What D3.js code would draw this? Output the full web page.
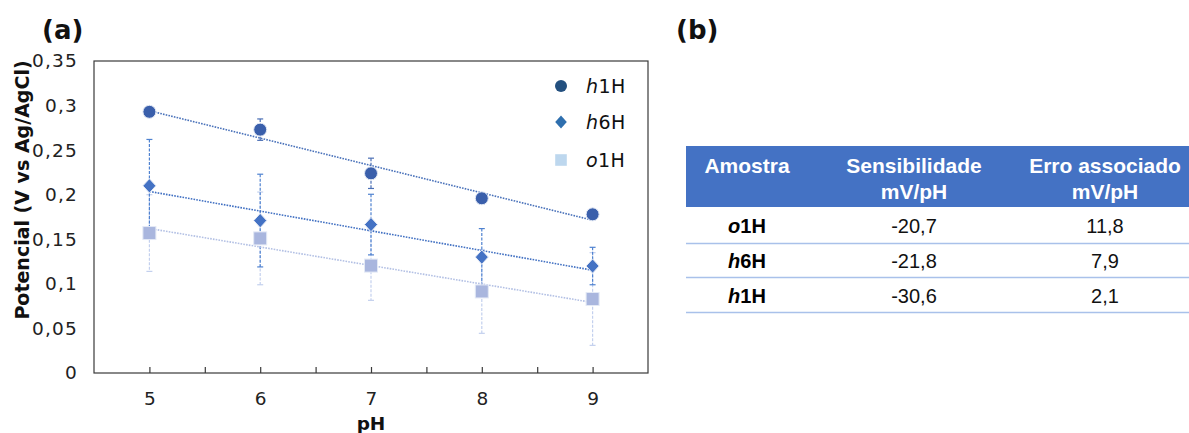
<!DOCTYPE html>
<html>
<head>
<meta charset="utf-8">
<script src="https://cdn.jsdelivr.net/npm/d3@7"></script>
<style>
  html, body { margin: 0; padding: 0; background: #fff; }
  svg { display: block; }
</style>
</head>
<body>
<svg id="fig" width="1189" height="433"></svg>
<script>
// ---- Data: potential vs pH for the three samples ----
const pH = [5, 6, 7, 8, 9];
const h1H = [0.293, 0.273, 0.224, 0.196, 0.178];
const h1HErr = [0.003, 0.012, 0.017, 0.003, 0.003];
const h6H = [0.210, 0.171, 0.1665, 0.130, 0.120];
const h6HErr = [0.052, 0.052, 0.034, 0.032, 0.021];
const o1H = [0.157, 0.151, 0.1205, 0.0915, 0.083];
const o1HErr = [0.043, 0.052, 0.039, 0.047, 0.052];

const yTicks = [0, 0.05, 0.1, 0.15, 0.2, 0.25, 0.3, 0.35];
const xTicks = [5, 6, 7, 8, 9];
const xMinorTicks = [5.5, 6.5, 7.5, 8.5];

// ---- Table (b): sensitivity and associated error ----
const tableHeader = [["Amostra"], ["Sensibilidade", "mV/pH"], ["Erro associado", "mV/pH"]];
const samplePrefix = ["o", "h", "h"];
const sampleSuffix = ["1H", "6H", "1H"];
const sensitivity = ["-20,7", "-21,8", "-30,6"];
const assocError = ["11,8", "7,9", "2,1"];

const svg = d3.select("#fig");
const fmt = v => d3.format("")(v).replace(".", ",");
const FONT = "DejaVu Sans, Verdana, sans-serif";

// ---- Scales ----
const x = d3.scaleLinear().domain([4.5, 9.5]).range([94, 648]);
const y = d3.scaleLinear().domain([0, 0.35]).range([373, 61]);

const series = [
  { name: "o1H", pre: "o", suf: "1H", vals: o1H, err: o1HErr, shape: "square",
    fill: "#a9b6de", line: "#b3c0e4", errColor: "#c3d0ee", legend: "#bdd7ee" },
  { name: "h6H", pre: "h", suf: "6H", vals: h6H, err: h6HErr, shape: "diamond",
    fill: "#4472c4", line: "#4170c2", errColor: "#4f82d0", legend: "#2e6fae" },
  { name: "h1H", pre: "h", suf: "1H", vals: h1H, err: h1HErr, shape: "circle",
    fill: "#3a5fab", line: "#4a72ba", errColor: "#4b6fb5", legend: "#23507f" }
];

// ---- Frame ----
svg.append("rect")
  .attr("x", x(4.5)).attr("y", y(0.35))
  .attr("width", x(9.5) - x(4.5)).attr("height", y(0) - y(0.35))
  .attr("fill", "none").attr("stroke", "#3a3a3a").attr("stroke-width", 1.2);

// ---- X axis (ticks inside the frame) ----
const xAxis = d3.axisBottom(x).tickValues(xTicks).tickSize(-6).tickPadding(19)
  .tickFormat(d => d);
const gx = svg.append("g").attr("transform", `translate(0,${y(0)})`).call(xAxis);
gx.select(".domain").remove();
gx.selectAll(".tick line").attr("stroke", "#3a3a3a").attr("stroke-width", 1.2);
gx.selectAll(".tick text").attr("font-family", FONT)
  .attr("font-size", 18.5).attr("fill", "#222");
const gxMinor = svg.append("g").attr("transform", `translate(0,${y(0)})`)
  .call(d3.axisBottom(x).tickValues(xMinorTicks).tickSize(-6).tickFormat(""));
gxMinor.select(".domain").remove();
gxMinor.selectAll(".tick line").attr("stroke", "#3a3a3a").attr("stroke-width", 1.2);

// ---- Y axis (labels only) ----
const gy = svg.append("g").attr("transform", `translate(${x(4.5)},0)`)
  .call(d3.axisLeft(y).tickValues(yTicks).tickSize(0).tickPadding(16).tickFormat(fmt));
gy.select(".domain").remove();
gy.selectAll(".tick text").attr("font-family", FONT)
  .attr("font-size", 18.5).attr("letter-spacing", 1.2).attr("fill", "#222");

// ---- Axis titles ----
svg.append("text")
  .attr("transform", `translate(29,190) rotate(-90)`)
  .attr("text-anchor", "middle")
  .attr("font-family", FONT).attr("font-weight", "bold")
  .attr("font-size", 19).attr("fill", "#111")
  .text("Potencial (V vs Ag/AgCl)");
svg.append("text")
  .attr("x", x(7)).attr("y", 430)
  .attr("text-anchor", "middle")
  .attr("font-family", FONT).attr("font-weight", "bold")
  .attr("font-size", 18.5).attr("fill", "#111")
  .text("pH");

// ---- Panel letters ----
svg.append("text").attr("x", 42).attr("y", 39)
  .attr("font-family", FONT).attr("font-weight", "bold")
  .attr("font-size", 26).attr("fill", "#111").text("(a)");
svg.append("text").attr("x", 676).attr("y", 39)
  .attr("font-family", FONT).attr("font-weight", "bold")
  .attr("font-size", 26).attr("fill", "#111").text("(b)");

// ---- Error bars ----
const capHalf = 3;
series.forEach(s => {
  const g = svg.append("g");
  pH.forEach((p, i) => {
    const cx = x(p), top = y(s.vals[i] + s.err[i]), bot = y(s.vals[i] - s.err[i]);
    g.append("line").attr("x1", cx).attr("x2", cx).attr("y1", top).attr("y2", bot)
      .attr("stroke", s.errColor).attr("stroke-width", 1.2).attr("stroke-dasharray", "3,1.5");
    [top, bot].forEach(yy => g.append("line")
      .attr("x1", cx - capHalf).attr("x2", cx + capHalf).attr("y1", yy).attr("y2", yy)
      .attr("stroke", s.errColor).attr("stroke-width", 1.2));
  });
});

// ---- Linear trend lines (least squares) ----
function fit(xs, ys) {
  const mx = d3.mean(xs), my = d3.mean(ys);
  const b = d3.sum(xs, (v, i) => (v - mx) * (ys[i] - my)) / d3.sum(xs, v => (v - mx) ** 2);
  return { b, a: my - b * mx };
}
series.forEach(s => {
  const { a, b } = fit(pH, s.vals);
  const x0 = d3.min(pH), x1 = d3.max(pH);
  svg.append("line")
    .attr("x1", x(x0)).attr("y1", y(a + b * x0))
    .attr("x2", x(x1)).attr("y2", y(a + b * x1))
    .attr("stroke", s.line).attr("stroke-width", 1.6).attr("stroke-dasharray", "1.6,1.2");
});

// ---- Markers ----
function drawMarker(g, shape, cx, cy, r, fill, stroke) {
  let el;
  if (shape === "circle") {
    el = g.append("circle").attr("cx", cx).attr("cy", cy).attr("r", r);
  } else if (shape === "diamond") {
    const p = d3.path();
    p.moveTo(cx, cy - r * 1.1); p.lineTo(cx + r, cy); p.lineTo(cx, cy + r * 1.1); p.lineTo(cx - r, cy); p.closePath();
    el = g.append("path").attr("d", p.toString());
  } else {
    el = g.append("rect").attr("x", cx - r).attr("y", cy - r).attr("width", 2 * r).attr("height", 2 * r);
  }
  el.attr("fill", fill);
  if (stroke) el.attr("stroke", stroke).attr("stroke-width", 1);
  return el;
}
series.forEach(s => {
  const g = svg.append("g");
  pH.forEach((p, i) => drawMarker(g, s.shape, x(p), y(s.vals[i]), 6.5, s.fill, "#e3e9f5"));
});

// ---- Legend ----
const legendOrder = [series[2], series[1], series[0]];
const legendY = [86, 122, 160];
legendOrder.forEach((s, i) => {
  const g = svg.append("g");
  drawMarker(g, s.shape, 561, legendY[i], s.shape === "circle" ? 6 : 5.8, s.legend, null);
  const t = g.append("text").attr("x", 586).attr("y", legendY[i] + 6.5)
    .attr("font-family", FONT).attr("font-size", 19).attr("letter-spacing", 0.4).attr("fill", "#111");
  t.append("tspan").attr("font-style", "italic").text(s.pre);
  t.append("tspan").text(s.suf);
});

// ---- Table (b) ----
const colX = [747, 914, 1105];
const tbl = svg.append("g").attr("font-family", "Liberation Sans, Arial, sans-serif");
tbl.append("rect").attr("x", 686).attr("y", 146).attr("width", 1189 - 686).attr("height", 61)
  .attr("fill", "#4472c4");
tableHeader.forEach((lines, c) => {
  lines.forEach((ln, k) => {
    tbl.append("text").attr("x", colX[c]).attr("y", 173 + k * 25.5)
      .attr("text-anchor", "middle").attr("font-weight", "bold").attr("font-size", 21)
      .attr("fill", "#fff").text(ln);
  });
});
const rowBase = [233, 268, 302.5];
const rowLine = [243.5, 277.5, 312.5];
sensitivity.forEach((v, r) => {
  const t = tbl.append("text").attr("x", colX[0]).attr("y", rowBase[r])
    .attr("text-anchor", "middle").attr("font-weight", "bold").attr("font-size", 20).attr("fill", "#000");
  t.append("tspan").attr("font-style", "italic").text(samplePrefix[r]);
  t.append("tspan").text(sampleSuffix[r]);
  tbl.append("text").attr("x", colX[1]).attr("y", rowBase[r]).attr("text-anchor", "middle")
    .attr("font-size", 20).attr("fill", "#111").text(v);
  tbl.append("text").attr("x", colX[2]).attr("y", rowBase[r]).attr("text-anchor", "middle")
    .attr("font-size", 20).attr("fill", "#111").text(assocError[r]);
  tbl.append("line").attr("x1", 686).attr("x2", 1189).attr("y1", rowLine[r]).attr("y2", rowLine[r])
    .attr("stroke", "#a9c1ea").attr("stroke-width", 1.4);
});
</script>
</body>
</html>
